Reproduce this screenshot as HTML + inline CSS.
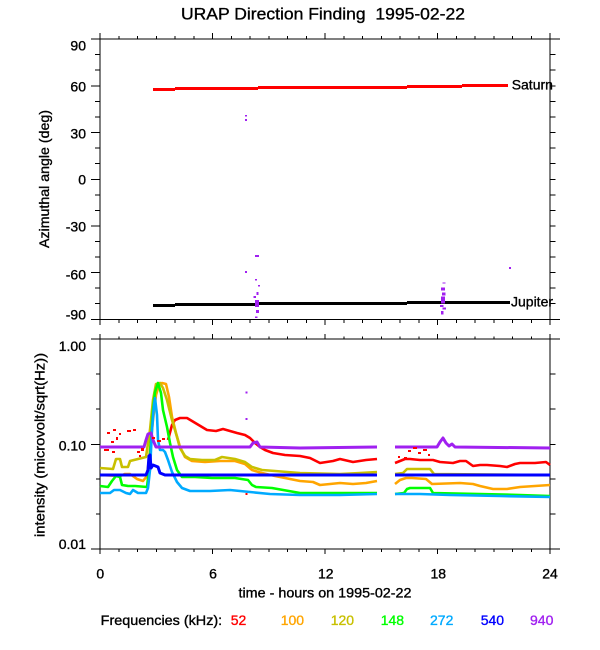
<!DOCTYPE html>
<html><head><meta charset="utf-8"><style>
html,body{margin:0;padding:0;background:#fff;}
svg{display:block;}
text{font-family:"Liberation Sans",Arial,sans-serif;font-size:14px;fill:#000;stroke:#000;stroke-width:0.35;}
</style></head><body>
<svg width="600" height="650" viewBox="0 0 600 650" xmlns="http://www.w3.org/2000/svg">
<rect width="600" height="650" fill="#fff"/>
<text x="323" y="19.3" text-anchor="middle" style="font-size:17px" textLength="284" lengthAdjust="spacingAndGlyphs">URAP Direction Finding&#160; 1995-02-22</text>

<g stroke="#000" stroke-width="1" fill="none" shape-rendering="crispEdges">
<line x1="91" y1="39" x2="560" y2="39"/>
<line x1="91" y1="319.3" x2="560" y2="319.3"/>
<line x1="100" y1="33" x2="100" y2="325"/>
<line x1="550" y1="33" x2="550" y2="325"/>
<line x1="91" y1="339" x2="560" y2="339"/>
<line x1="91" y1="549" x2="560" y2="549"/>
<line x1="100" y1="334" x2="100" y2="554"/>
<line x1="550" y1="334" x2="550" y2="554"/>
<path d="M91 86H100M91 132.6H100M91 179.3H100M91 226H100M91 272.6H100
M95 54.6H100M95 70.1H100M95 101.6H100M95 117.1H100M95 148.2H100M95 163.7H100M95 194.9H100M95 210.4H100M95 241.5H100M95 257.1H100M95 288.2H100M95 303.7H100
M550 54.6H555.7M550 70.1H555.7M550 86H555.7M550 101.6H555.7M550 117.1H555.7M550 132.6H555.7M550 148.2H555.7M550 163.7H555.7M550 179.3H555.7M550 194.9H555.7M550 210.4H555.7M550 226H555.7M550 241.5H555.7M550 257.1H555.7M550 272.6H555.7M550 288.2H555.7M550 303.7H555.7"/>
<path d="M212.5 33V39M325 33V39M437.5 33V39
M118.75 36V39M137.5 36V39M156.25 36V39M175 36V39M193.75 36V39M231.25 36V39M250 36V39M268.75 36V39M287.5 36V39M306.25 36V39M343.75 36V39M362.5 36V39M381.25 36V39M400 36V39M418.75 36V39M456.25 36V39M475 36V39M493.75 36V39M512.5 36V39M531.25 36V39
M212.5 319V325M325 319V325M437.5 319V325
M118.75 319V323M137.5 319V323M156.25 319V323M175 319V323M193.75 319V323M231.25 319V323M250 319V323M268.75 319V323M287.5 319V323M306.25 319V323M343.75 319V323M362.5 319V323M381.25 319V323M400 319V323M418.75 319V323M456.25 319V323M475 319V323M493.75 319V323M512.5 319V323M531.25 319V323"/>
<path d="M212.5 334V339M325 334V339M437.5 334V339
M118.75 336.5V339M137.5 336.5V339M156.25 336.5V339M175 336.5V339M193.75 336.5V339M231.25 336.5V339M250 336.5V339M268.75 336.5V339M287.5 336.5V339M306.25 336.5V339M343.75 336.5V339M362.5 336.5V339M381.25 336.5V339M400 336.5V339M418.75 336.5V339M456.25 336.5V339M475 336.5V339M493.75 336.5V339M512.5 336.5V339M531.25 336.5V339
M212.5 549V554M325 549V554M437.5 549V554
M118.75 549V552M137.5 549V552M156.25 549V552M175 549V552M193.75 549V552M231.25 549V552M250 549V552M268.75 549V552M287.5 549V552M306.25 549V552M343.75 549V552M362.5 549V552M381.25 549V552M400 549V552M418.75 549V552M456.25 549V552M475 549V552M493.75 549V552M512.5 549V552M531.25 549V552"/>
<path d="M91 444.3H100M96 374H100M96 409H100M96 479H100M96 514H100
M550 374H555.7M550 409H555.7M550 444.3H555.7M550 479H555.7M550 514H555.7"/>
</g>

<g text-anchor="end">
<text x="86" y="50.7">90</text>
<text x="86" y="91.7">60</text>
<text x="86" y="138.3">30</text>
<text x="86" y="184.3">0</text>
<text x="86" y="231.7">-30</text>
<text x="86" y="279.5">-60</text>
<text x="86" y="319.3">-90</text>
<text x="86" y="351">1.00</text>
<text x="86" y="450.7">0.10</text>
<text x="86" y="549">0.01</text>
</g>
<text transform="translate(49,179) rotate(-90)" text-anchor="middle" textLength="138" lengthAdjust="spacingAndGlyphs">Azimuthal angle (deg)</text>
<text transform="translate(44.5,445) rotate(-90)" text-anchor="middle" textLength="184" lengthAdjust="spacingAndGlyphs">intensity (microvolt/sqrt(Hz))</text>

<g text-anchor="middle">
<text x="100.3" y="578.3">0</text>
<text x="213" y="578.3">6</text>
<text x="325.8" y="578.3">12</text>
<text x="438.3" y="578.3">18</text>
<text x="550" y="578.3">24</text>
<text x="325" y="597.5" textLength="173" lengthAdjust="spacingAndGlyphs">time - hours on 1995-02-22</text>
</g>
<text x="100.7" y="625" textLength="121.5" lengthAdjust="spacingAndGlyphs">Frequencies (kHz):</text>
<text x="230.7" y="625" style="fill:#ff0000;stroke:#ff0000">52</text>
<text x="280.7" y="625" style="fill:#ffa500;stroke:#ffa500">100</text>
<text x="330.7" y="625" style="fill:#c8c000;stroke:#c8c000">120</text>
<text x="380.7" y="625" style="fill:#00ff00;stroke:#00ff00">148</text>
<text x="430" y="625" style="fill:#00aaff;stroke:#00aaff">272</text>
<text x="480.7" y="625" style="fill:#0000ff;stroke:#0000ff">540</text>
<text x="530" y="625" style="fill:#a020f0;stroke:#a020f0">940</text>

<g fill="#ff0000" shape-rendering="crispEdges">
<rect x="153" y="88" width="22" height="3"/>
<rect x="175" y="87" width="83" height="3"/>
<rect x="258" y="86" width="149" height="3"/>
<rect x="407" y="85" width="55" height="3"/>
<rect x="462" y="84" width="46" height="3"/>
</g>
<g fill="#000" shape-rendering="crispEdges">
<rect x="153" y="304" width="22" height="3"/>
<rect x="175" y="303" width="83" height="3"/>
<rect x="258" y="302" width="149" height="3"/>
<rect x="407" y="301" width="103" height="3"/>
</g>
<text x="511.7" y="89.3">Saturn</text>
<text x="511" y="306.5">Jupiter</text>
<g fill="#a020f0" shape-rendering="crispEdges">
<rect x="245" y="115" width="2" height="1.5"/>
<rect x="245" y="119" width="2" height="2"/>
<rect x="255" y="255" width="4" height="2"/>
<rect x="245" y="271" width="2" height="2"/>
<rect x="255" y="279" width="2" height="1.5"/>
<rect x="258" y="285" width="2" height="1.5"/>
<rect x="256.5" y="292" width="2" height="3"/>
<rect x="253.5" y="296" width="2.5" height="2"/>
<rect x="255" y="300" width="4" height="7"/>
<rect x="256" y="310" width="3" height="3"/>
<rect x="255" y="316.5" width="2.5" height="1.5"/>
<rect x="442.5" y="282.5" width="3" height="1"/>
<rect x="441" y="287.5" width="4" height="3"/>
<rect x="442" y="292.5" width="3.5" height="3"/>
<rect x="441" y="296.5" width="4" height="7"/>
<rect x="440" y="305" width="3.5" height="2"/>
<rect x="442.5" y="307.5" width="3.5" height="2"/>
<rect x="441" y="311" width="2.5" height="3.5"/>
<rect x="509" y="267" width="2" height="2"/>
</g>

<g fill="none" stroke-width="2.6" stroke-linejoin="round" stroke-linecap="butt">
<polyline stroke="#ff0000" points="168,440 172,425 175,420 180,418 187,418 197,424 207,430 216,431 223,429 230,431 237,433 245,435 250,438 255,443 260,447 265,450 273,453 285,455 300,456 310,458 320,463 333,461 340,459 353,462 366,460 377,459"/>
<polyline stroke="#ff0000" points="395,463 400,461 405,459 410,459 420,460 433,460 440,462 453,463 460,461 466,461 473,466 480,465 487,465 500,466 507,467 515,464 520,463 535,463 546,462 550,465"/>
<polyline stroke="#ffa500" points="100,475 120,476 125,474 130,474 137,479 143,481 147,476 150,450 153,420 156,395 159,385 162,383 166,384 169,397 172,417 176,433 180,447 185,457 192,461 205,462 220,461 235,461 245,464 252,470 262,473 275,476 290,479 300,481 313,482 320,485 340,483 353,484 366,483 377,481"/>
<polyline stroke="#ffa500" points="395,484 400,480 406,478 412,478 426,479 432,484 460,483 473,484 480,486 493,489 507,489 520,487 535,486 550,485"/>
<polyline stroke="#c8c000" points="100,468 113,469 116,459 120,459 122,467 128,467 130,461 138,459 146,457 150,430 153,400 156,384 160,383 163,388 167,400 172,420 177,437 180,448 185,456 190,459 202,460 215,460 222,457 235,459 245,462 252,467 262,470 275,471 300,473 340,474 360,473 377,472"/>
<polyline stroke="#c8c000" points="395,474 403,473 407,469 430,469 434,474 550,475"/>
<polyline stroke="#00ff00" points="100,486 108,487 112,481 116,476 120,477 122,485 128,486 135,486 147,487 149,470 151,440 153,410 155,392 158,383 161,393 163,410 167,427 170,443 173,457 177,470 182,477 195,477 212,478 235,478 248,480 252,485 256,487 272,488 300,493 340,493 377,493"/>
<polyline stroke="#00ff00" points="395,494 404,493 407,489 410,488 430,488 433,493 480,494 520,495 550,496"/>
<polyline stroke="#00aaff" points="100,493 110,493 114,490 120,490 126,493 130,494 133,490 138,493 146,493 148,488 150,470 152,430 154,405 155,398 157,415 158,440 160,450 163,450 165,452 168,460 172,472 177,482 182,488 190,491 210,491 230,490 250,492 270,494 300,495 340,495 377,494"/>
<polyline stroke="#00aaff" points="395,494 420,494 450,495 500,496 550,497"/>
</g>
<g fill="none" stroke-width="3" stroke-linejoin="round">
<polyline stroke="#0000ff" points="100,475 146,475 148,470 149,456 150,455 151,468 153,465 158,467 160,473 165,475 377,475"/>
<polyline stroke="#0000ff" points="395,475 550,475"/>
<polyline stroke="#a020f0" points="100,447 144,447 146,440 148,434 151,433 153,440 156,447 250,447 253,443 257,442 260,447 300,448 377,447"/>
<polyline stroke="#a020f0" points="395,447 437,447 440,442 443,438 446,443 449,446 452,444 455,447 550,448"/>
</g>
<g shape-rendering="crispEdges">
<g fill="#ff0000">
<rect x="107" y="432" width="3" height="2"/>
<rect x="113" y="429" width="3" height="2"/>
<rect x="116" y="437" width="2" height="3"/>
<rect x="119" y="433" width="2" height="2"/>
<rect x="111" y="441" width="3" height="2"/>
<rect x="127" y="430" width="4" height="2"/>
<rect x="133" y="429" width="3" height="2"/>
<rect x="104" y="449" width="5" height="2"/>
<rect x="112" y="451" width="3" height="2"/>
<rect x="137" y="451" width="3" height="2"/>
<rect x="141" y="448" width="3" height="3"/>
<rect x="139" y="455" width="2" height="2"/>
<rect x="152" y="437" width="3" height="2"/>
<rect x="157" y="440" width="4" height="2"/>
<rect x="162" y="438" width="3" height="2"/>
<rect x="245.5" y="493" width="2" height="2"/>
<rect x="404" y="457" width="3" height="2"/>
<rect x="408" y="450" width="3" height="2"/>
<rect x="413" y="447" width="4" height="2"/>
<rect x="418" y="452" width="3" height="2"/>
<rect x="423" y="449" width="4" height="2"/>
<rect x="428" y="454" width="2" height="2"/>
<rect x="398" y="456" width="2" height="2"/>
</g>
<g fill="#a020f0">
<rect x="245.5" y="391.5" width="2" height="2"/>
<rect x="245.5" y="418" width="2" height="2"/>
</g>
</g>
</svg>
</body></html>
